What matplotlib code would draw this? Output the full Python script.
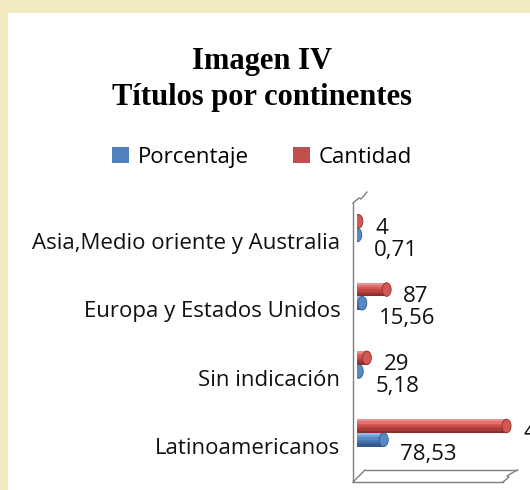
import matplotlib
matplotlib.use("Agg")
import matplotlib.pyplot as plt
import matplotlib.transforms as mtransforms
from matplotlib.patches import Patch, Rectangle, Ellipse
from matplotlib.lines import Line2D
import numpy as np

categories = ["Latinoamericanos", "Sin indicación", "Europa y Estados Unidos",
              "Asia,Medio oriente y Australia"]
cantidad = [439, 29, 87, 4]
porcentaje = [78.53, 5.18, 15.56, 0.71]
cantidad_labels = ["439", "29", "87", "4"]
porcentaje_labels = ["78,53", "5,18", "15,56", "0,71"]

W, H = 530, 490
DPI = 100
fig = plt.figure(figsize=(W / DPI, H / DPI), dpi=DPI)
fig.patch.set_facecolor("#F2EAC0")

def px(x, y):
    return x / W, 1 - y / H

# white panel
fig.patches.append(Rectangle(px(8, 490), (W - 8) / W, (490 - 13) / H,
                             transform=fig.transFigure, facecolor="white",
                             edgecolor="none", zorder=-10))

LABEL_FONT = "Open Sans"
FS = 16

# title
fig.text(262 / W, 1 - 62 / H, "Imagen IV", ha="center", va="center",
         family="Liberation Serif", weight="bold", fontsize=22)
fig.text(262 / W, 1 - 97 / H, "Títulos por continentes", ha="center", va="center",
         family="Liberation Serif", weight="bold", fontsize=22)

blue = "#4F81BD"
red = "#C0504D"

# legend
handles = [Patch(facecolor=blue, edgecolor="none"), Patch(facecolor=red, edgecolor="none")]
fig.legend(handles, ["Porcentaje", "Cantidad"], loc="center",
           bbox_to_anchor=(262 / W, 1 - 157 / H), ncol=2, frameon=False,
           handlelength=0.75, handleheight=0.75, handletextpad=0.4, columnspacing=2.0,
           prop={"family": LABEL_FONT, "size": FS})

# axes
ax_l, ax_r, ax_t, ax_b = 357, 512, 194, 467
ax = fig.add_axes([ax_l / W, (H - ax_b) / H, (ax_r - ax_l) / W, (ax_b - ax_t) / H])
ax.set_facecolor("none")
XMAX = 455
ax.set_xlim(0, XMAX)
ax.set_ylim(-0.5, 3.5)
for s in ax.spines.values():
    s.set_visible(False)
ax.set_xticks([])
pos = np.arange(len(categories))
ax.set_yticks(pos)
ax.set_yticklabels(categories, family=LABEL_FONT, fontsize=FS, color="#111111")
ax.tick_params(axis="y", length=0, pad=12)
offset = mtransforms.ScaledTranslation(0, -13 / DPI, fig.dpi_scale_trans)
for lab in ax.get_yticklabels():
    lab.set_transform(lab.get_transform() + offset)

bh = 0.2
red_shades = ["#EA918F", "#E07270", "#D35855", "#C24744", "#A83A37", "#8E2E2B"]
blue_shades = ["#94B8E5", "#74A0D6", "#5888C6", "#4878B6", "#3D69A1", "#325A8C"]
nstrip = len(red_shades)
cap_w = 9 / (ax_r - ax_l) * XMAX  # cap width in data units (~9 px)

def cylinder(yc, vals, shades):
    for k, col in enumerate(shades):
        yk = yc + bh / 2 - (k + 0.5) * bh / nstrip
        ax.barh(yk, vals, height=bh / nstrip + 0.002, color=col, edgecolor="none", zorder=3)
    for y, v in zip(yc, vals):
        ax.add_patch(Ellipse((0, y), cap_w, bh, facecolor=shades[3], edgecolor="none",
                             zorder=2.9))
        ax.add_patch(Ellipse((v, y), cap_w, bh, facecolor=shades[2], edgecolor=shades[-1],
                             linewidth=0.6, zorder=4))

cylinder(pos + bh / 2, cantidad, red_shades)
cylinder(pos - bh / 2, porcentaje, blue_shades)

for y, v, t in zip(pos + bh / 2, cantidad, cantidad_labels):
    ax.annotate(t, (v, y), xytext=(12, -5), textcoords="offset points",
                ha="left", va="center", family=LABEL_FONT, fontsize=FS,
                color="#111111", annotation_clip=False, zorder=5)
for y, v, t in zip(pos - bh / 2, porcentaje, porcentaje_labels):
    ax.annotate(t, (v, y), xytext=(12, -11), textcoords="offset points",
                ha="left", va="center", family=LABEL_FONT, fontsize=FS,
                color="#111111", annotation_clip=False, zorder=5)

# 3D wall / floor outlines
grey = "#7F7F7F"
segs = [
    [(353, 203), (353, 482)],
    [(353, 482), (503, 482)],
    [(365, 470), (517, 470)],
    [(353, 482), (365, 470)],
    [(503, 482), (509, 477), (507, 476), (517, 470)],
    [(353, 203), (359, 198), (361, 199), (367, 192)],
]
for seg in segs:
    xs = [p[0] / W for p in seg]
    ys = [1 - p[1] / H for p in seg]
    fig.add_artist(Line2D(xs, ys, color=grey, linewidth=1.0, transform=fig.transFigure))

fig.savefig("out.png", dpi=DPI, facecolor=fig.get_facecolor())
